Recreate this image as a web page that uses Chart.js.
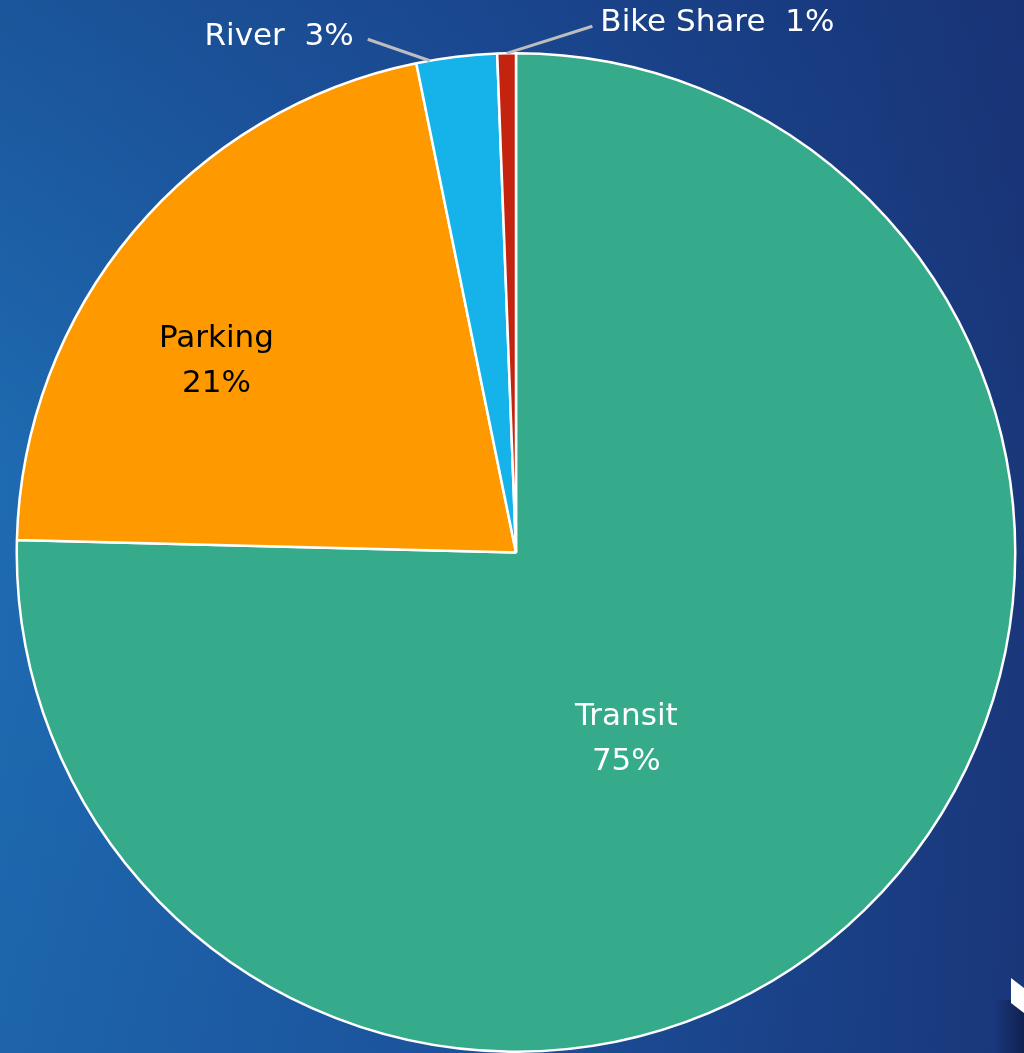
<!DOCTYPE html>
<html>
<head>
<meta charset="utf-8">
<script src="https://cdn.jsdelivr.net/npm/chart.js@4/dist/chart.umd.min.js"></script>
<style>
  html, body { margin: 0; padding: 0; background: #1c4f96; overflow: hidden; }
  canvas { display: block; }
</style>
</head>
<body>
<canvas id="pie" width="1024" height="1053"></canvas>
<script>
// Share of trips by mode (percent)
const categories = ['Transit', 'Parking', 'River', 'Bike Share'];
const shares = [75.4, 21.4, 2.6, 0.6];
const sliceColors = ['#36ab8b', '#fe9a00', '#15b3ea', '#c4240f'];

// Label placement, in units of the pie radius relative to its centre
const labelLayout = [
  { mode: 'inside', dx: 0.221, dy: 0.375, color: '#ffffff' },
  { mode: 'inside', dx: -0.600, dy: -0.383, color: '#000000' },
  { mode: 'outside', dx: -0.325, dy: -1.033, align: 'right', lineFrom: [-0.297, -1.028], anchorT: 0.17, color: '#ffffff' },
  { mode: 'outside', dx: 0.169, dy: -1.060, align: 'left', lineFrom: [0.153, -1.054], anchorT: 0.5, color: '#ffffff' }
];

const FONT = '31px "DejaVu Sans", "Liberation Sans", sans-serif';

const backdrop = {
  id: 'backdrop',
  beforeDraw(chart) {
    const { ctx, width, height } = chart;
    ctx.save();
    const g = ctx.createLinearGradient(0, 0, width, 0);
    g.addColorStop(0, '#1e6bb2');
    g.addColorStop(0.45, '#1c56a1');
    g.addColorStop(1, '#1a377b');
    ctx.fillStyle = g;
    ctx.fillRect(0, 0, width, height);
    const v = ctx.createLinearGradient(0, 0, 0, height);
    v.addColorStop(0, 'rgba(22,44,110,0.35)');
    v.addColorStop(0.45, 'rgba(22,44,110,0)');
    v.addColorStop(1, 'rgba(22,44,110,0.1)');
    ctx.fillStyle = v;
    ctx.fillRect(0, 0, width, height);
    // soft shade along the lower right edge and white logo fragment
    const r = ctx.createLinearGradient(width - 30, 0, width, 0);
    r.addColorStop(0, 'rgba(10,20,55,0)');
    r.addColorStop(1, 'rgba(10,20,55,0.6)');
    ctx.fillStyle = r;
    ctx.fillRect(width - 30, 1000, 30, height - 1000);
    ctx.fillStyle = '#ffffff';
    ctx.beginPath();
    ctx.moveTo(1011, 978);
    ctx.lineTo(1024, 988);
    ctx.lineTo(1024, 1013);
    ctx.lineTo(1011, 1003);
    ctx.closePath();
    ctx.fill();
    ctx.restore();
  }
};

const sliceLabels = {
  id: 'sliceLabels',
  afterDatasetsDraw(chart) {
    const { ctx } = chart;
    const meta = chart.getDatasetMeta(0);
    const values = chart.data.datasets[0].data;
    ctx.save();
    ctx.font = FONT;
    ctx.textBaseline = 'middle';
    meta.data.forEach((arc, i) => {
      const { x, y, outerRadius, startAngle, endAngle } = arc.getProps(['x', 'y', 'outerRadius', 'startAngle', 'endAngle'], true);
      const L = labelLayout[i];
      const pct = Math.round(values[i]) + '%';
      const name = chart.data.labels[i];
      ctx.fillStyle = L.color;
      if (L.mode === 'inside') {
        const cx = x + L.dx * outerRadius;
        const cy = y + L.dy * outerRadius;
        ctx.textAlign = 'center';
        ctx.fillText(name, cx, cy - 22.5);
        ctx.fillText(pct, cx, cy + 22.5);
      } else {
        const a = startAngle + (endAngle - startAngle) * L.anchorT;
        const ex = x + Math.cos(a) * outerRadius;
        const ey = y + Math.sin(a) * outerRadius;
        ctx.strokeStyle = '#bdbdbd';
        ctx.lineWidth = 3;
        ctx.beginPath();
        ctx.moveTo(x + L.lineFrom[0] * outerRadius, y + L.lineFrom[1] * outerRadius);
        ctx.lineTo(ex, ey);
        ctx.stroke();
        ctx.textAlign = L.align;
        ctx.fillText(name + '  ' + pct, x + L.dx * outerRadius, y + L.dy * outerRadius);
      }
    });
    ctx.restore();
  }
};

new Chart(document.getElementById('pie'), {
  type: 'pie',
  data: {
    labels: categories,
    datasets: [{
      data: shares,
      backgroundColor: sliceColors,
      borderColor: '#ffffff',
      borderWidth: 2.5,
      hoverBorderWidth: 2.5
    }]
  },
  options: {
    responsive: false,
    animation: false,
    rotation: 0,
    layout: { padding: { left: 15, right: 7, top: 52, bottom: 0 } },
    plugins: {
      legend: { display: false },
      tooltip: { enabled: false }
    }
  },
  plugins: [backdrop, sliceLabels]
});
</script>
</body>
</html>
